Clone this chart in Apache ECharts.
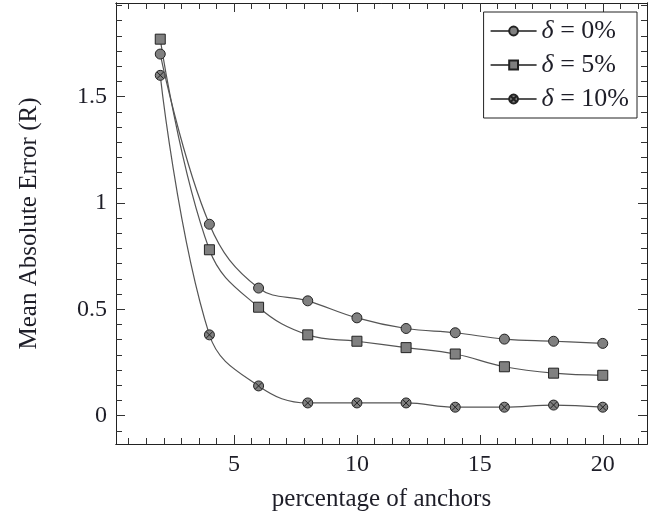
<!DOCTYPE html>
<html>
<head>
<meta charset="utf-8">
<script src="https://cdn.jsdelivr.net/npm/echarts@6/dist/echarts.min.js"></script>
<style>
  html, body { margin: 0; padding: 0; background: #fff; }
  #chart { width: 665px; height: 519px; }
</style>
</head>
<body>
<div id="chart"></div>
<script>
// data
var anchors = [2, 4, 6, 8, 10, 12, 14, 16, 18, 20];
var delta0 = [1.70, 0.90, 0.60, 0.54, 0.46, 0.41, 0.39, 0.36, 0.35, 0.34];
var delta5 = [1.77, 0.78, 0.51, 0.38, 0.35, 0.32, 0.29, 0.23, 0.20, 0.19];
var delta10 = [1.60, 0.38, 0.14, 0.06, 0.06, 0.06, 0.04, 0.04, 0.05, 0.04];
var seriesNames = ["δ = 0%", "δ = 5%", "δ = 10%"];
var xTicks = [5, 10, 15, 20];
var yTicks = [0, 0.5, 1, 1.5];

var xMin = 0.2, xMax = 21.8;
var yMin = -0.133, yMax = 1.94;

// pgfplots-like minor ticks (7 intervals per major step)
function minorTicks(majors, lo, hi) {
  var step = (majors[1] - majors[0]) / 7;
  var out = [];
  for (var v = majors[0] - step * 20; v < hi; v += step) {
    var isMajor = majors.some(function (m) { return Math.abs(m - v) < 1e-6; });
    if (v > lo && !isMajor) out.push(+v.toFixed(4));
  }
  return out;
}

var font = "Liberation Serif";
var textColor = "#1e1e28";

function axis(pos, min, max, ticks, len, withLabel) {
  return {
    type: "value",
    position: pos,
    min: min,
    max: max,
    axisLine: { show: true, onZero: false, lineStyle: { color: "#222", width: 1 } },
    axisTick: { show: true, inside: true, length: len, customValues: ticks, lineStyle: { color: "#333", width: 1 } },
    axisLabel: withLabel
      ? { show: true, customValues: ticks, fontFamily: font, fontSize: 24, color: textColor, margin: 9 }
      : { show: false },
    splitLine: { show: false }
  };
}

var xMinor = minorTicks(xTicks, xMin, xMax);
var yMinor = minorTicks(yTicks, yMin, yMax);

var xBottom = axis("bottom", xMin, xMax, xTicks, 9, true);
xBottom.name = "percentage of anchors";
xBottom.nameLocation = "middle";
xBottom.nameGap = 43;
xBottom.nameTextStyle = { fontFamily: font, fontSize: 25, color: textColor };

var yLeft = axis("left", yMin, yMax, yTicks, 9, true);
yLeft.name = "Mean Absolute Error (R)";
yLeft.nameLocation = "middle";
yLeft.nameGap = 74;
yLeft.nameTextStyle = { fontFamily: font, fontSize: 25, color: textColor };

var crossCircle = "path://M10,5A5,5 0 1,1 0,5A5,5 0 1,1 10,5Z M1.6,1.6L8.4,8.4M8.4,1.6L1.6,8.4";
var symbols = ["circle", "rect", crossCircle];
var values = [delta0, delta5, delta10];

var myChart = echarts.init(document.getElementById("chart"));

var option = {
  animation: false,
  grid: { left: 116, right: 18, top: 3, bottom: 75 },
  xAxis: [
    xBottom,
    axis("bottom", xMin, xMax, xMinor, 6, false),
    axis("top", xMin, xMax, xTicks, 9, false),
    axis("top", xMin, xMax, xMinor, 6, false)
  ],
  yAxis: [
    yLeft,
    axis("left", yMin, yMax, yMinor, 6, false),
    axis("right", yMin, yMax, yTicks, 9, false),
    axis("right", yMin, yMax, yMinor, 6, false)
  ],
  legend: {
    right: 28,
    top: 12,
    orient: "vertical",
    backgroundColor: "#fff",
    borderColor: "#222",
    borderWidth: 1,
    borderRadius: 0,
    padding: [6, 8, 6, 6],
    itemGap: 8,
    itemWidth: 46,
    itemHeight: 11,
    formatter: function (name) {
      return "{i|δ}{n|" + name.slice(1) + "}";
    },
    textStyle: {
      fontFamily: font,
      fontSize: 26,
      color: textColor,
      rich: {
        i: { fontFamily: font, fontStyle: "italic", fontSize: 26, color: textColor },
        n: { fontFamily: font, fontSize: 26, color: textColor }
      }
    },
    data: seriesNames
  },
  series: values.map(function (vals, k) {
    return {
      name: seriesNames[k],
      type: "line",
      smooth: 0.4,
      data: anchors.map(function (a, i) { return [a, vals[i]]; }),
      symbol: symbols[k],
      symbolSize: 10,
      showAllSymbol: true,
      lineStyle: { color: "#555", width: 1.2 },
      itemStyle: { color: "#808080", borderColor: "#222", borderWidth: 1 },
      z: 3 - k
    };
  })
};

myChart.setOption(option);
</script>
</body>
</html>
